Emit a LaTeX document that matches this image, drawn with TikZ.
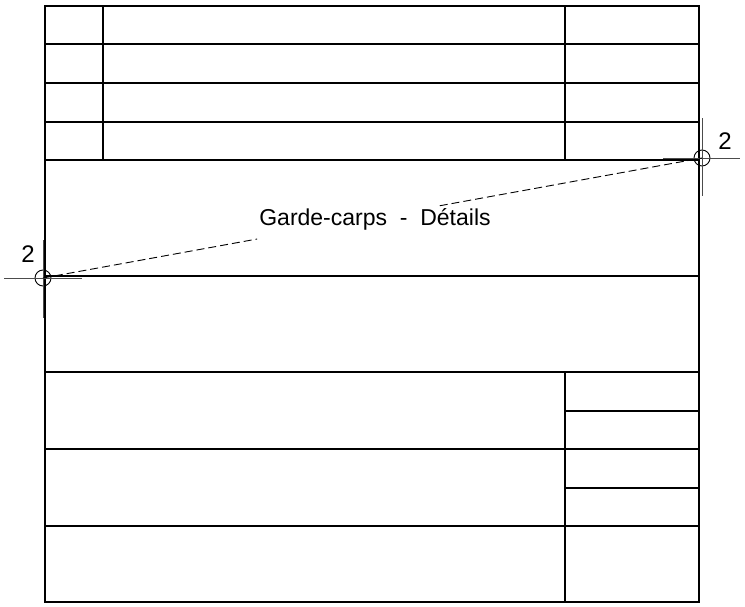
\documentclass[tikz,border=0pt]{standalone}
\usepackage{fontspec}
\setmainfont{Liberation Sans}
\usetikzlibrary{calc}

\begin{document}
\begin{tikzpicture}[x=1pt,y=-1pt]
  \tikzset{frame/.style = {line width=1.8pt}}
  \tikzset{rule/.style = {line width=1.1pt}}
  \tikzset{crossline/.style = {line width=0.9pt, black!70}}
  \tikzset{target/.style = {shape=circle,draw,minimum size=16pt,inner sep=0pt,line width=0.9pt}}
  \tikzset{num/.style = {inner sep=0pt,font=\fontsize{24}{24}\selectfont}}
  \tikzset{title/.style = {inner sep=0pt,font=\fontsize{23}{23}\selectfont}}
  \tikzset{edge/.style = {line width=0.9pt, dash pattern=on 8pt off 4pt}}

  \useasboundingbox (0,0) rectangle (745,606);

  % cartouche
  \draw[frame] (45,6) rectangle (699,602);
  \foreach \y in {44,83,122,160,276,372,449,526}
    \draw[rule] (45,\y) -- (699,\y);
  \foreach \x in {103,565}
    \draw[rule] (\x,6) -- (\x,160);
  \foreach \y in {411,488}
    \draw[rule] (565,\y) -- (699,\y);
  \draw[rule] (565,372) -- (565,602);

  % reperes de coupe
  \node[target] (L) at (43,278) {};
  \node[target] (R) at (702,158) {};
  \draw[crossline] (43,240) -- (43,318);
  \draw[crossline] (4,278) -- (82,278);
  \draw[crossline] (702,118) -- (702,196);
  \draw[crossline] (663,158) -- (740,158);
  \node[num] (L2) at (28,254) {2};
  \node[num] (R2) at (725,141) {2};

  \node[title] (T) at (375,219) {Garde-carps \ - \ Détails};

  \draw[edge] (L.center) -- ($(L.center)!0.325!(R.center)$);
  \draw[edge] ($(L.center)!0.602!(R.center)$) -- (R.center);
\end{tikzpicture}
\end{document}
